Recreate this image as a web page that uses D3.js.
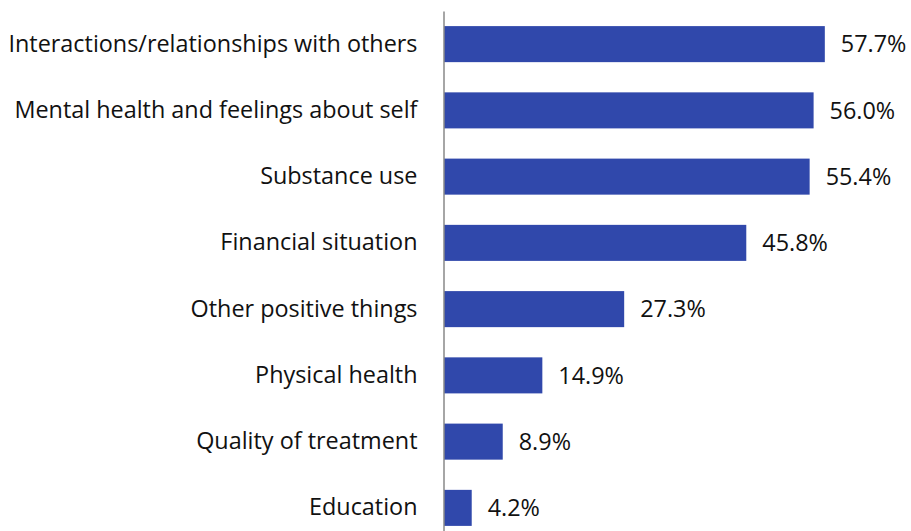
<!DOCTYPE html>
<html>
<head>
<meta charset="utf-8">
<script src="https://cdn.jsdelivr.net/npm/d3@7"></script>
<style>
  html, body { margin: 0; padding: 0; background: #fff; }
  svg { display: block; }
  text { font-family: "Open Sans", "Noto Sans", sans-serif; fill: #111; }
</style>
</head>
<body>
<svg id="chart" width="911" height="531"></svg>
<script>
// Share of respondents reporting change, by life area
const categories = [
  "Interactions/relationships with others",
  "Mental health and feelings about self",
  "Substance use",
  "Financial situation",
  "Other positive things",
  "Physical health",
  "Quality of treatment",
  "Education"
];
const values = [57.7, 56.0, 55.4, 45.8, 27.3, 14.9, 8.9, 4.2];

const svg = d3.select("#chart");

const x = d3.scaleLinear().domain([0, 70]).range([444, 906]);
const y = d3.scaleBand().domain(categories).range([11, 541]).paddingInner(0.456).paddingOuter(0.228);

const fontSize = 23.4;

// bars
svg.append("g").selectAll("rect")
  .data(values)
  .join("rect")
  .attr("x", x(0))
  .attr("y", (d, i) => y(categories[i]))
  .attr("width", d => x(d) - x(0))
  .attr("height", y.bandwidth())
  .attr("fill", "#3048ab");

// category axis
const axis = svg.append("g")
  .attr("transform", `translate(${x(0) - 0.5},0)`)
  .call(d3.axisLeft(y).tickSize(0).tickPadding(26));
axis.select(".domain").attr("stroke", "#888").attr("stroke-width", 1.5);
axis.selectAll("text")
  .style("font-family", "'Open Sans', 'Noto Sans', sans-serif")
  .style("font-size", fontSize + "px")
  .attr("fill", "#111");

// value labels
svg.append("g").selectAll("text")
  .data(values)
  .join("text")
  .attr("x", d => x(d) + 16)
  .attr("y", (d, i) => y(categories[i]) + y.bandwidth() / 2)
  .attr("dy", "0.35em")
  .style("font-size", fontSize + "px")
  .text(d => d.toFixed(1) + "%");
</script>
</body>
</html>
